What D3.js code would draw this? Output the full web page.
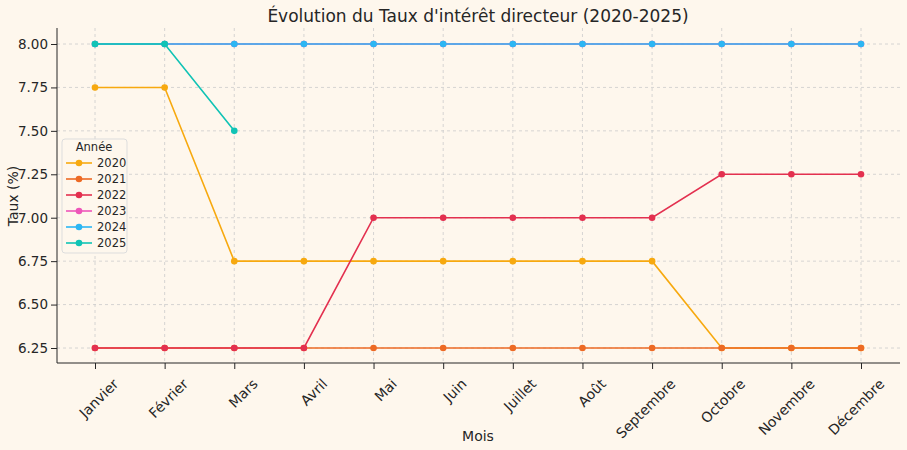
<!DOCTYPE html><html><head><meta charset="utf-8"><script src="https://cdn.jsdelivr.net/npm/d3@7"></script>
<style>body{margin:0;background:#fef7ed}text{font-family:"DejaVu Sans",sans-serif;fill:#262626}</style></head><body><svg id="c" width="907" height="450"></svg><script>
const months=["Janvier","Février","Mars","Avril","Mai","Juin","Juillet","Août","Septembre","Octobre","Novembre","Décembre"];
const years=["2020","2021","2022","2023","2024","2025"];
const colors=["#f7a90f","#ed6a24","#e3304f","#ee55b9","#2cb6f3","#10c3b5"];
const v2020=[7.75,7.75,6.75,6.75,6.75,6.75,6.75,6.75,6.75,6.25,6.25,6.25];
const v2021=[6.25,6.25,6.25,6.25,6.25,6.25,6.25,6.25,6.25,6.25,6.25,6.25];
const v2022=[6.25,6.25,6.25,6.25,7.0,7.0,7.0,7.0,7.0,7.25,7.25,7.25];
const v2023=[8,8,8,8,8,8,8,8,8,8,8,8];
const v2024=[8,8,8,8,8,8,8,8,8,8,8,8];
const v2025=[8,8,7.5];
const yTicks=[6.25,6.5,6.75,7.0,7.25,7.5,7.75,8.0];
const series=[v2020,v2021,v2022,v2023,v2024,v2025];
const svg=d3.select("#c");
const L=57,R=900,T=28,B=363;
const x=d3.scalePoint().domain(months).range([95,861]);
const y=d3.scaleLinear().domain([6.25,8]).range([348,44]);
const g=svg.append("g");
g.selectAll(".gx").data(months).join("line").attr("x1",d=>x(d)).attr("x2",d=>x(d)).attr("y1",T).attr("y2",B).attr("stroke","#ccc").attr("stroke-dasharray","3,3").attr("stroke-width",0.8);
g.selectAll(".gy").data(yTicks).join("line").attr("x1",L).attr("x2",R).attr("y1",d=>y(d)).attr("y2",d=>y(d)).attr("stroke","#ccc").attr("stroke-dasharray","3,3").attr("stroke-width",0.8);
const ax=svg.append("g").attr("transform",`translate(0,${B})`).call(d3.axisBottom(x).tickSizeOuter(0));
ax.select(".domain").attr("d",`M${L},0H${R}`);
ax.selectAll("text").attr("font-size",14).attr("text-anchor","end").attr("dy","0.35em").attr("transform","translate(14,12) rotate(-45)");
const ay=svg.append("g").attr("transform",`translate(${L},0)`).call(d3.axisLeft(y).tickValues(yTicks).tickFormat(d3.format(".2f")).tickSizeOuter(0));
ay.select(".domain").attr("d",`M0,${T}V${B}`);
ay.selectAll("text").attr("font-size",13.5);
svg.selectAll(".domain,.tick line").attr("stroke","#262626");
series.forEach((s,i)=>{
 const line=d3.line().x((d,j)=>x(months[j])).y(d=>y(d));
 svg.append("path").datum(s).attr("d",line).attr("fill","none").attr("stroke",colors[i]).attr("stroke-width",1.6);
 svg.append("g").selectAll("circle").data(s).join("circle").attr("cx",(d,j)=>x(months[j])).attr("cy",d=>y(d)).attr("r",3.3).attr("fill",colors[i]);
});
svg.append("text").attr("x",478).attr("y",22).attr("text-anchor","middle").attr("font-size",17).text("Évolution du Taux d'intérêt directeur (2020-2025)");
svg.append("text").attr("x",478).attr("y",441).attr("text-anchor","middle").attr("font-size",14).text("Mois");
svg.append("text").attr("transform","translate(18,196) rotate(-90)").attr("text-anchor","middle").attr("font-size",14).text("Taux (%)");
const lg=svg.append("g").attr("transform","translate(62,139)");
lg.append("rect").attr("width",65).attr("height",114).attr("rx",3).attr("fill","#fef7ed").attr("stroke","#ddd");
lg.append("text").attr("x",32).attr("y",12).attr("text-anchor","middle").attr("font-size",11.5).text("Année");
years.forEach((yr,i)=>{const yy=24+i*16;
 lg.append("line").attr("x1",4).attr("x2",30).attr("y1",yy).attr("y2",yy).attr("stroke",colors[i]).attr("stroke-width",1.6);
 lg.append("circle").attr("cx",17).attr("cy",yy).attr("r",3.3).attr("fill",colors[i]);
 lg.append("text").attr("x",35).attr("y",yy+4).attr("font-size",11.5).text(yr);});
</script></body></html>
